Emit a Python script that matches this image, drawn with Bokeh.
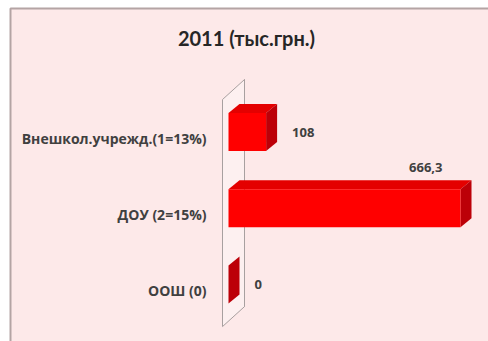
from bokeh.plotting import figure
from bokeh.models import Range1d
from bokeh.core.properties import value
from bokeh.embed import file_html
from bokeh.resources import INLINE

# ---- data ----
title_text = "2011 (тыс.грн.)"
categories = ["Внешкол.учрежд.(1=13%)", "ДОУ (2=15%)", "ООШ (0)"]
values = [108, 666.3, 0]

# ---- geometry (canvas pixels) ----
W, H = 488, 341
X0 = 228            # canvas x of value 0
XMAXPX = 460        # canvas x where the largest bar ends
ROW = 76.25         # px between category rows
Y0 = 284            # canvas y of the lowest row centre
SX = (XMAXPX - X0) / max(values)   # px per unit

x_start, x_end = -X0 / SX, (W - X0) / SX
y_start, y_end = -(H - Y0) / ROW, Y0 / ROW
UX = 1.0 / SX       # data units per px (x)
UY = 1.0 / ROW      # data units per px (y)

def cx(px):  # canvas px -> data x
    return x_start + px * UX

def cy(py):  # canvas px (from top) -> data y
    return y_end - py * UY

p = figure(width=W, height=H, output_backend="svg", toolbar_location=None,
           x_range=Range1d(x_start, x_end), y_range=Range1d(y_start, y_end),
           x_axis_location=None, y_axis_location=None, min_border=0,
           background_fill_color="white", border_fill_color="white",
           outline_line_color=None)
p.grid.visible = False

FONT = value("Open Sans")

# ---- chart panel ----
p.quad(left=[cx(10)], right=[cx(W + 5)], top=[cy(8)], bottom=[cy(H + 5)],
       fill_color="#fde9e9", line_color="#b4a4a4", line_width=2)

n = len(categories)
rows = [n - 1 - i for i in range(n)]

# ---- 3D wall (axis slab) ----
wdx, wdy = 22 * UX, 20 * UY
wl = -6 * UX
w_top = max(rows) + 0.426
w_bot = min(rows) - 0.552
p.patch([wl, wl + wdx, wl + wdx, wl], [w_top, w_top + wdy, w_bot + wdy, w_bot],
        fill_color="#fdf1f1", fill_alpha=0.8, line_color="#a8a0a0", line_width=1)
p.line([wl + wdx, wl + wdx], [w_top + wdy, w_bot + wdy], line_color="#a8a0a0", line_width=1)

# ---- 3D bars ----
h = 19 * UY          # half height of bar front face
dx, dy = 11 * UX, 9 * UY
xs, ys, cols = [], [], []
for v, k in zip(values, rows):
    # top face
    xs.append([0, v, v + dx, dx]); ys.append([k + h, k + h, k + h + dy, k + h + dy]); cols.append("#e40000")
    # side face
    xs.append([v, v + dx, v + dx, v]); ys.append([k - h, k - h + dy, k + h + dy, k + h]); cols.append("#bc0008")
p.patches(xs, ys, fill_color=cols, line_color=None)
p.quad(left=[0] * n, right=values, bottom=[k - h for k in rows], top=[k + h for k in rows],
       fill_color="#ff0000", line_color=None)

# ---- category labels ----
p.text(x=[cx(X0 - 22)] * n, y=[k - 6 * UY for k in rows], text=categories,
       text_font=FONT, text_font_style="bold", text_font_size="14px",
       text_align="right", text_baseline="middle", text_color="#404040")

# ---- value labels ----
def fmt(v):
    s = f"{v:g}"
    return s.replace(".", ",")

lab_text = [fmt(v) for v in values]
rx, ry, lx, ly = [], [], [], []
rt, lt = [], []
for v, k, t in zip(values, rows, lab_text):
    end_px = X0 + v * SX + 11
    if end_px + 15 + 45 < W:
        rx.append(v + dx + 15 * UX); ry.append(k); rt.append(t)
    else:
        lx.append(v - 18 * UX); ly.append(k + h + dy + 8 * UY); lt.append(t)
p.text(x=rx, y=ry, text=rt, text_font=FONT, text_font_style="bold",
       text_font_size="13px", text_align="left", text_baseline="middle", text_color="#404040")
p.text(x=lx, y=ly, text=lt, text_font=FONT, text_font_style="bold",
       text_font_size="13px", text_align="right", text_baseline="bottom", text_color="#404040")

# ---- title ----
p.text(x=[cx(246)], y=[cy(37)], text=[title_text], text_font=value("Lato"), text_font_style="bold",
       text_font_size="20px", text_align="center", text_baseline="middle", text_color="#262626")

open("out.html", "w").write(file_html(p, INLINE))
